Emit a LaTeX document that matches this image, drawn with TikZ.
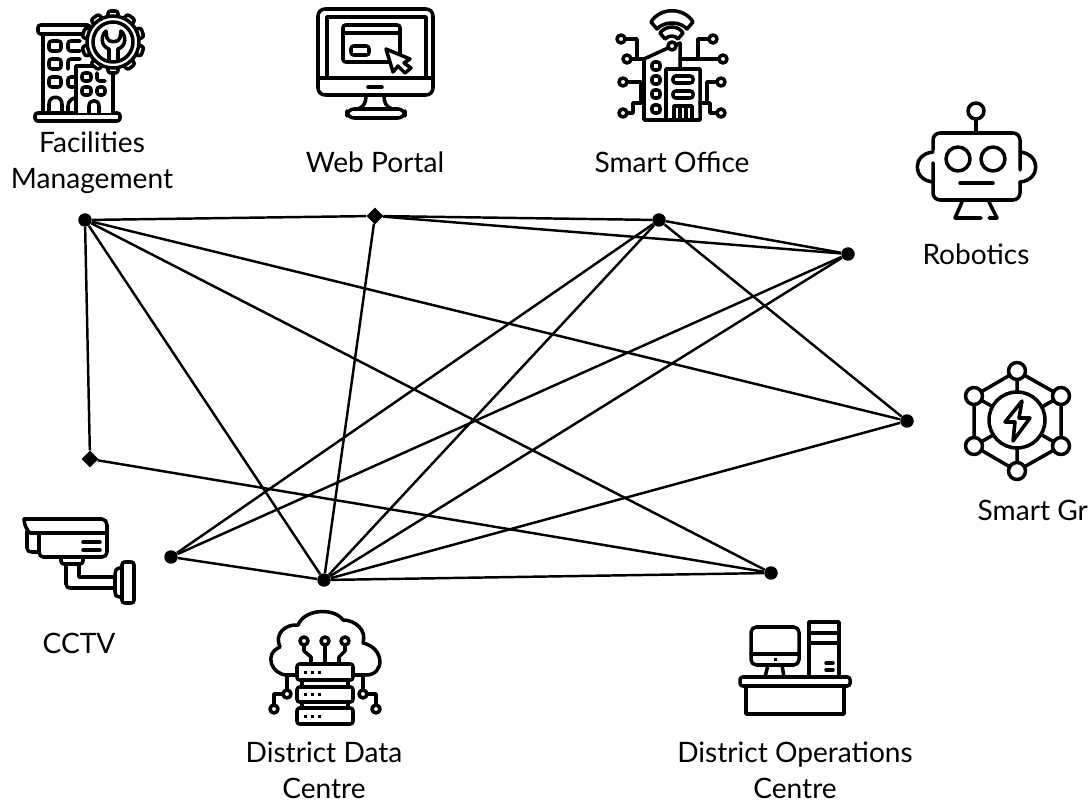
\documentclass[tikz,border=0pt]{standalone}
\usepackage{fontspec}
\setmainfont{Lato}
\usetikzlibrary{shapes.geometric}
\tikzset{
  hub/.style={circle,fill=black,inner sep=0pt,minimum size=0.27cm},
  relay/.style={diamond,fill=black,inner sep=0pt,minimum size=0.34cm},
  link/.style={line width=1.4pt},
  icon/.style={line width=2pt,line join=round,line cap=round},
  soft/.style={icon,rounded corners=1.5pt},
  tag/.style={font=\fontsize{16}{20.5}\selectfont,align=center,inner sep=0pt}
}
\begin{document}
\begin{tikzpicture}[x=0.02cm,y=-0.02cm]
      \useasboundingbox (0,0) rectangle (1089,800);

      \node[tag] (lfacilities) at (92,163) {Facilities\\Management};
      \node[tag] (lweb) at (375,162) {Web Portal};
      \node[tag] (loffice) at (672,162) {Smart Office};
      \node[tag] (lrobotics) at (976,254) {Robotics};
      \node[tag] (lgrid) at (1044,510) {Smart Grid};
      \node[tag] (lcctv) at (79,643) {CCTV};
      \node[tag] (ldata) at (324,770) {District Data\\Centre};
      \node[tag] (lops) at (795,770) {District Operations\\Centre};

      \node[hub] (facilities) at (85,220) {};
      \node[relay] (web) at (375,216) {};
      \node[hub] (office) at (659,220) {};
      \node[hub] (robotics) at (848,254) {};
      \node[hub] (grid) at (907,421) {};
      \node[relay] (sensor) at (90,459) {};
      \node[hub] (cctv) at (171,557) {};
      \node[hub] (data) at (324,580) {};
      \node[hub] (ops) at (771,573) {};

      \foreach \a/\b in {facilities/web,facilities/sensor,facilities/data,facilities/ops,facilities/grid,
        web/office,web/robotics,web/data,office/robotics,office/grid,office/cctv,office/data,
        robotics/cctv,robotics/data,grid/data,sensor/ops,cctv/data,data/ops}
        \draw[link] (\a) -- (\b);

      % facilities
      \draw[soft] (35,113) rectangle (120,121);
      \draw[soft] (38,25) rectangle (90,34);
      \draw[icon] (43,34) -- (43,113);
      \draw[soft] (49,41) rectangle (61,51) (49,59) rectangle (61,69) (49,77) rectangle (61,87);
      \draw[soft] (80,41) -- (68,41) -- (68,51) -- (80,51);
      \draw[soft] (68,69) -- (68,59) -- (80,59);
      \draw[soft] (75,77) -- (68,77) -- (68,87) -- (75,87);
      \draw[icon] (49,113) -- (49,104) .. controls (49,95) and (62,95) .. (62,104) -- (62,113);
      \draw[icon] (68,113) -- (68,106) .. controls (68,101) and (72,99) .. (74,98);
      \draw[icon,fill=white] (76,113) -- (76,66) -- (113,66) -- (113,113);
      \draw[soft] (82,73) rectangle (91,81) (82,87) rectangle (91,95) (97,87) rectangle (105,95);
      \draw[soft] (97,73) -- (97,81) -- (105,81);
      \draw[icon] (89,113) -- (89,106) .. controls (89,99) and (99,99) .. (99,106) -- (99,113);
      \foreach \t in {0,36,...,324}
        \draw[soft,fill=white,rotate around={\t:(113,42)}] (108,16) -- (108,11) -- (118,11) -- (118,16);
      \draw[icon,fill=white] (113,42) circle (26);
      \draw[icon] (113,42) circle (20);
      \draw[icon] (106,31) -- (107,38) .. controls (108,43) and (119,43) .. (120,38) -- (121,31)
        .. controls (126,35) and (127,46) .. (118,49) -- (118,61)
        (109,61) -- (109,49) .. controls (100,46) and (101,35) .. (106,31);

      % web
      \draw[icon,rounded corners=4pt] (318,9) rectangle (433,95);
      \draw[icon] (327,77) -- (327,17) -- (426,17) -- (426,77);
      \draw[icon] (318,78) -- (433,78);
      \draw[soft] (343,25) rectangle (400,62);
      \draw[icon] (343,33) -- (400,33);
      \draw[soft] (351,46) rectangle (369,55);
      \draw[icon,fill=white] (386,49) -- (410,59) -- (404,63) -- (411,68) -- (405,73) -- (398,66) -- (393,72) -- cycle;
      \draw[icon] (368,87) -- (382,87);
      \draw[icon] (366,96) .. controls (366,102) and (364,107) .. (358,109);
      \draw[icon] (384,96) .. controls (384,102) and (386,107) .. (392,109);
      \draw[icon,rounded corners=4pt] (347,109) rectangle (405,118);

      % office
      \draw[icon] (651,22) .. controls (660,7) and (684,7) .. (693,22) -- (687,29)
        .. controls (680,21) and (664,21) .. (657,29) -- cycle;
      \draw[icon] (660,33) .. controls (666,25) and (678,25) .. (683,33) -- (678,39)
        .. controls (675,35) and (669,35) .. (665,39) -- cycle;
      \draw[icon] (672,46) circle (4);
      \draw[icon] (668,48) -- (644,59) -- (644,120) -- (700,120) -- (700,69) -- (666,69) -- (666,120);
      \draw[icon] (676,45) -- (680,43) -- (680,69);
      \foreach \y in {66,80,94,109}
        \draw[soft] (652,\y-4) rectangle (660,\y+4);
      \draw[soft] (673,76) rectangle (693,83) (673,91) rectangle (693,98);
      \draw[icon] (674,120) -- (674,106) -- (692,106) -- (692,120) (680,106) -- (680,120) (686,106) -- (686,120);
      \draw[icon] (621,39) circle (4) (627,59) circle (4) (713,39) circle (4) (723,59) circle (4)
        (623,82) circle (4) (721,82) circle (4) (623,113) circle (4) (721,113) circle (4);
      \draw[icon] (625,39) -- (637,39) -- (637,59) (631,59) -- (644,59);
      \draw[icon] (709,39) -- (698,39) -- (698,59) (680,59) -- (719,59);
      \draw[icon] (627,82) -- (641,82) -- (641,103) (644,103) -- (633,103) -- (633,113) -- (627,113);
      \draw[icon] (717,82) -- (707,82) -- (707,103) (700,103) -- (710,103) -- (710,113) -- (717,113);

      % robotics
      \draw[icon] (976,111) circle (8);
      \draw[icon] (976,119) -- (976,133);
      \draw[icon,rounded corners=4pt] (933,150) -- (933,133) -- (1020,133) -- (1020,170);
      \draw[icon,rounded corners=4pt] (1020,182) -- (1020,200) -- (933,200) -- (933,163);
      \draw[icon] (958,159) circle (12) (993,159) circle (12);
      \draw[icon] (960,183) -- (993,183);
      \draw[icon] (933,152) .. controls (912,154) and (912,180) .. (933,182);
      \draw[icon] (1020,152) .. controls (1041,154) and (1041,180) .. (1020,182);
      \draw[icon] (962,202) -- (955,218) -- (981,218);
      \draw[icon] (989,202) -- (997,218) -- (989,218);

      % grid
      \draw[icon] (1017,371) -- (1061,396) -- (1061,446) -- (1017,471) -- (974,446) -- (974,396) -- cycle;
      \draw[icon] (1017,371) -- (1017,471) (974,396) -- (1061,446) (1061,396) -- (974,446);
      \draw[icon,fill=white] (1017,420) circle (28);
      \foreach \p in {(1017,371),(1061,396),(1061,446),(1017,471),(974,446),(974,396)}
        \draw[icon,fill=white] \p circle (8.5);
      \draw[icon] (1022,401) -- (1005,422) -- (1015,422) -- (1013,441) -- (1030,418) -- (1019,418) -- cycle;

      % cctv
      \draw[icon] (24,519) -- (102,519) .. controls (105,519) and (107,522) .. (107,525) -- (107,552)
        .. controls (107,555) and (105,557) .. (102,557) -- (43,557) .. controls (41,557) and (39,555) .. (39,552) -- (39,533);
      \draw[icon] (24,519) .. controls (24,526) and (28,531) .. (30,533) -- (107,533);
      \draw[icon] (27,531) -- (27,548) .. controls (27,551) and (29,552) .. (32,552) -- (39,552);
      \draw[icon] (83,542) -- (100,542) (83,550) -- (100,550);
      \draw[icon] (61,558) -- (61,561) .. controls (61,563) and (62,564) .. (64,564) -- (80,564)
        .. controls (82,564) and (83,563) .. (83,561) -- (83,558);
      \draw[icon] (66,565) -- (66,584) .. controls (66,587) and (68,588) .. (70,588) -- (115,588);
      \draw[icon] (79,565) -- (79,577) -- (115,577);
      \draw[soft] (122,568) -- (117,568) -- (115,572) -- (115,594) -- (117,597) -- (122,597);
      \draw[soft] (122,562) rectangle (134,603);

      % data
      \draw[icon] (297,675) -- (287,675) .. controls (272,675) and (263,654) .. (280,647)
        .. controls (274,634) and (285,624) .. (298,625) .. controls (305,608) and (335,608) .. (343,620)
        .. controls (355,620) and (367,630) .. (363,643) .. controls (385,648) and (385,675) .. (366,675) -- (353,675);
      \draw[soft] (297,664) rectangle (353,680) (297,687) rectangle (353,702) (297,708) rectangle (353,724);
      \draw[icon] (302,680) -- (302,687) (348,680) -- (348,687) (302,702) -- (302,708) (348,702) -- (348,708);
      \foreach \y in {672,694,716}
        \foreach \x in {305,312,319}
          \fill (\x-1.5,\y-1.5) rectangle (\x+1.5,\y+1.5);
      \draw[icon] (304,641) circle (4) (325,641) circle (4) (345,641) circle (4);
      \draw[icon] (325,645) -- (325,664);
      \draw[icon] (304,645) -- (304,651) -- (311,657) -- (311,664);
      \draw[icon] (345,645) -- (345,651) -- (339,657) -- (339,664);
      \draw[icon] (287,677) -- (287,690) (363,677) -- (363,690);
      \draw[icon] (287,694) circle (4) (274,709) circle (4) (363,694) circle (4) (376,709) circle (4);
      \draw[icon] (283,694) -- (274,694) -- (274,705);
      \draw[icon] (367,694) -- (376,694) -- (376,705);

      % ops
      \draw[icon,rounded corners=3pt] (751,627) rectangle (799,665);
      \draw[icon] (751,654) -- (799,654);
      \fill (773.5,657.5) rectangle (776.5,660.5);
      \draw[icon] (768,665) -- (765,677) (782,665) -- (784,677);
      \draw[soft] (740,677) rectangle (850,686);
      \draw[icon] (746,686) -- (746,714) -- (844,714) -- (844,686);
      \draw[icon] (809,677) -- (809,622) -- (839,622) -- (839,677);
      \draw[icon] (809,633) -- (839,633) (809,643) -- (839,643);
      \draw[icon] (826,663) -- (833,663) (826,670) -- (833,670);
    \end{tikzpicture}
\end{document}
